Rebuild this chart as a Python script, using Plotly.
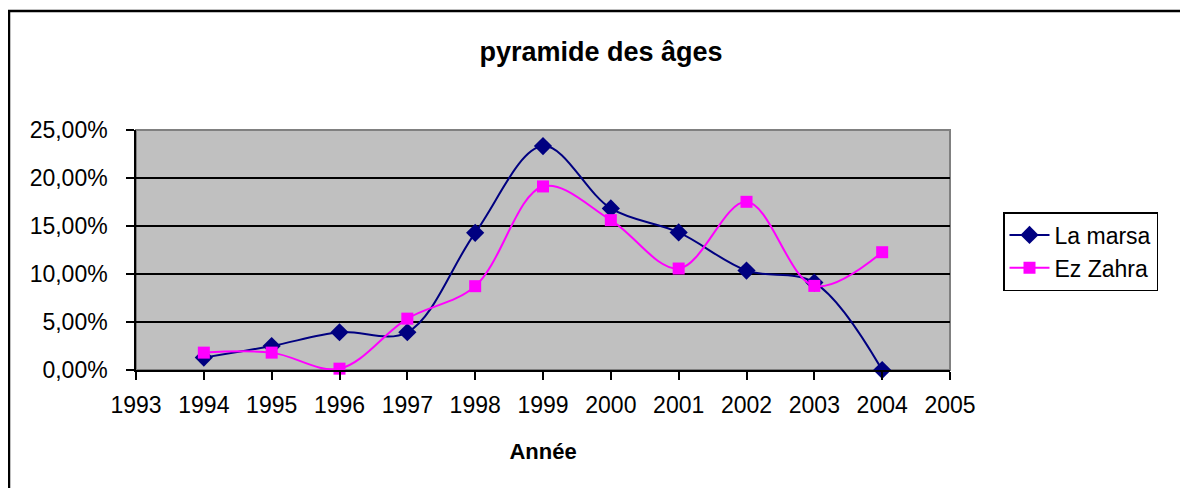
import plotly.graph_objects as go

years = [1994, 1995, 1996, 1997, 1998, 1999, 2000, 2001, 2002, 2003, 2004]
la_marsa = [0.0129, 0.0250, 0.0393, 0.0393, 0.1429, 0.2333, 0.1683, 0.1433, 0.1036, 0.0911, 0.0]
ez_zahra = [0.0181, 0.0181, 0.0014, 0.0535, 0.0873, 0.1912, 0.1561, 0.1057, 0.1752, 0.0876, 0.1227]
x_ticks = list(range(1993, 2006))
y_ticks = [0, 0.05, 0.10, 0.15, 0.20, 0.25]
y_labels = ["0,00%", "5,00%", "10,00%", "15,00%", "20,00%", "25,00%"]

# page body has an 8px margin; work in figure coordinates
OFF = 8
W, H = 1180, 480
L, T = 136 - OFF, 130 - OFF
R = W - (950 - OFF)
B = H - (370 - OFF)
pw, ph = W - L - R, H - T - B

def px_x(p):
    return (p - OFF - L) / pw

def px_y(p):
    return (H - B - (p - OFF)) / ph

FONT = "Liberation Sans, Arial, sans-serif"

fig = go.Figure()
fig.add_trace(go.Scatter(
    x=years, y=la_marsa, name="La marsa", mode="lines+markers",
    line=dict(color="#000080", width=2, shape="spline", smoothing=1.0),
    marker=dict(symbol="diamond", size=14, color="#000080"),
    cliponaxis=False,
))
fig.add_trace(go.Scatter(
    x=years, y=ez_zahra, name="Ez Zahra", mode="lines+markers",
    line=dict(color="#FF00FF", width=2, shape="spline", smoothing=1.0),
    marker=dict(symbol="square", size=12, color="#FF00FF"),
    cliponaxis=False,
))

fig.update_layout(
    width=W, height=H,
    margin=dict(l=L, r=R, t=T, b=B, pad=0),
    paper_bgcolor="white",
    plot_bgcolor="#C0C0C0",
    font=dict(family=FONT, size=23, color="black"),
    title=dict(text="<b>pyramide des âges</b>", x=(601 - OFF) / W, xanchor="center",
               y=1 - (52 - OFF) / H, yanchor="middle",
               font=dict(family=FONT, size=27, color="black")),
    showlegend=True,
    legend=dict(x=px_x(1003), y=px_y(212), xanchor="left", yanchor="top",
                bgcolor="white", bordercolor="black", borderwidth=1.5,
                font=dict(family=FONT, size=23, color="black"),
                itemwidth=40, tracegroupgap=0,
                entrywidth=175, entrywidthmode="pixels"),
    xaxis=dict(range=[1993, 2005], tickvals=x_ticks, ticktext=[str(v) for v in x_ticks],
               showgrid=False, zeroline=False, showline=True, linecolor="black", linewidth=1.5,
               ticks="outside", ticklen=8, tickwidth=1.5, tickcolor="black",
               tickfont=dict(family=FONT, size=23), ticklabelstandoff=6, fixedrange=True,
               title=dict(text="<b>Année</b>", font=dict(family=FONT, size=22), standoff=26)),
    yaxis=dict(range=[0, 0.25], tickvals=y_ticks, ticktext=y_labels,
               showgrid=True, gridcolor="black", gridwidth=1.5, zeroline=False,
               showline=True, linecolor="black", linewidth=1.5,
               ticks="outside", ticklen=8, tickwidth=1.5, tickcolor="black",
               tickfont=dict(family=FONT, size=23), ticklabelstandoff=14, fixedrange=True),
    shapes=[
        dict(type="rect", xref="paper", yref="paper", x0=0, x1=1, y0=0, y1=1,
             line=dict(color="#808080", width=2), layer="below"),
        dict(type="rect", xref="paper", yref="paper",
             x0=(-L + 1) / pw, x1=(1300 - L) / pw, y0=px_y(560), y1=px_y(11),
             line=dict(color="black", width=2.5), fillcolor="rgba(0,0,0,0)", layer="above"),
    ],
)

fig.write_html("out.html")
